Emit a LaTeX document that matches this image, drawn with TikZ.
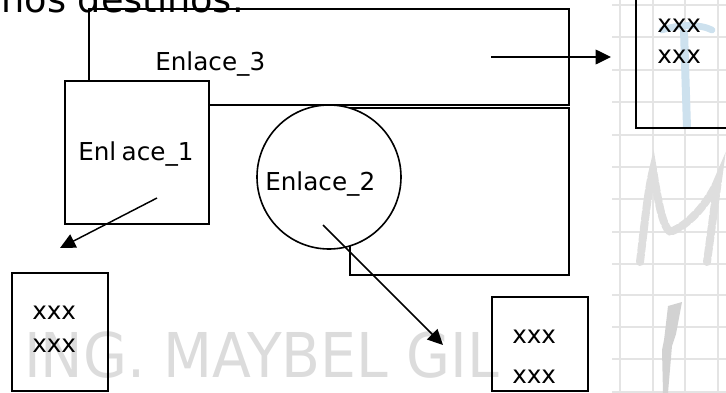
\documentclass[tikz,border=0pt]{standalone}
\usepackage{fontspec}
\setmainfont{DejaVu Sans}
\usetikzlibrary{arrows.meta}
\definecolor{wm}{RGB}{220,220,220}
\definecolor{gridc}{RGB}{228,228,228}
\definecolor{deco}{RGB}{210,210,210}
\definecolor{decom}{RGB}{222,222,222}
\definecolor{decot}{RGB}{205,225,238}
\begin{document}
\begin{tikzpicture}[x=0.75pt,y=-0.75pt,
  box/.style={draw=black, line width=1.5pt, inner sep=0pt, outer sep=0pt},
  lbl/.style={font=\fontsize{18.5pt}{22pt}\selectfont, inner sep=0pt, anchor=base west},
  arr/.style={-{Triangle[length=11.5pt,width=11pt]}, line width=1.1pt},
  gridline/.style={draw=gridc, line width=1.6pt}]
\useasboundingbox (0,0) rectangle (726,393);
\clip (0,0) rectangle (726,393);
% background grid
\foreach \gx in {620,653,685,718} \draw[gridline] (\gx,0) -- (\gx,393);
\foreach \gy in {5,37,70,102,135,167,199,232,264,295,327,359,392} \draw[gridline] (612,\gy) -- (726,\gy);
% decorative letters
\draw[decot, line width=5pt, line cap=round] (662,30) .. controls (680,24) and (700,24) .. (712,30);
\draw[decot, line width=6pt] (684,30) -- (687,128);
\draw[decom, line width=6pt, dotted, line cap=round] (640,262) .. controls (645,220) and (648,190) .. (653,170) .. controls (658,200) and (662,225) .. (670,232) .. controls (690,225) and (710,200) .. (718,180) .. controls (714,210) and (710,240) .. (707,262);
\fill[deco] (668,306) -- (682,302) -- (676,334) -- (672,346) -- (668,393) -- (663,393) -- (662,350) -- (664,340) -- (665,332) -- cycle;
% watermark and title
\node[font=\fontsize{46.3pt}{50pt}\selectfont, text=wm, inner sep=0pt, anchor=base west, xscale=0.92] (wmark) at (24,377) {ING. MAYBEL GIL};
\node[font=\fontsize{27.5pt}{30pt}\selectfont, inner sep=0pt, anchor=base east] (title) at (244,12) {nos destinos.};
% main shapes
\node[box, minimum width=360pt, minimum height=72pt] (r3) at (329,57) {};
\node[box, minimum width=164.25pt, minimum height=125.25pt] (r2) at (459.5,191.5) {};
\node[box, fill=white, minimum width=108pt, minimum height=107.25pt] (b1) at (137,152.5) {};
\node[box, circle, fill=white, minimum size=108pt, line width=1.2pt] (c2) at (329,177) {};
\node[box, minimum width=93pt, minimum height=103.5pt] (d3) at (698,59) {};
\node[box, minimum width=72pt, minimum height=88.5pt] (d1) at (60,332) {};
\node[box, minimum width=72pt, minimum height=70.5pt] (d2) at (540,344) {};
% labels
\node[lbl] (t3) at (155,70) {Enlace\_3};
\node[lbl] (t1) at (78,160) {Enl\hspace{4pt}ace\_1};
\node[lbl] (t2) at (265,190) {Enlace\_2};
\node[lbl] (x1a) at (32,319) {xxx};
\node[lbl] (x1b) at (32,352) {xxx};
\node[lbl] (x2a) at (512,343) {xxx};
\node[lbl] (x2b) at (512,383) {xxx};
\node[lbl] (x3a) at (657,32) {xxx};
\node[lbl] (x3b) at (657,63) {xxx};
% connectors
\coordinate (s3) at (491,57);
\coordinate (e3) at (611,57);
\coordinate (s1) at (157,198);
\coordinate (e1) at (60,248);
\coordinate (s2) at (323,225);
\coordinate (e2) at (443,345);
\draw[arr] (s3) -- (e3);
\draw[arr] (s1) -- (e1);
\draw[arr] (s2) -- (e2);
\end{tikzpicture}
\end{document}
